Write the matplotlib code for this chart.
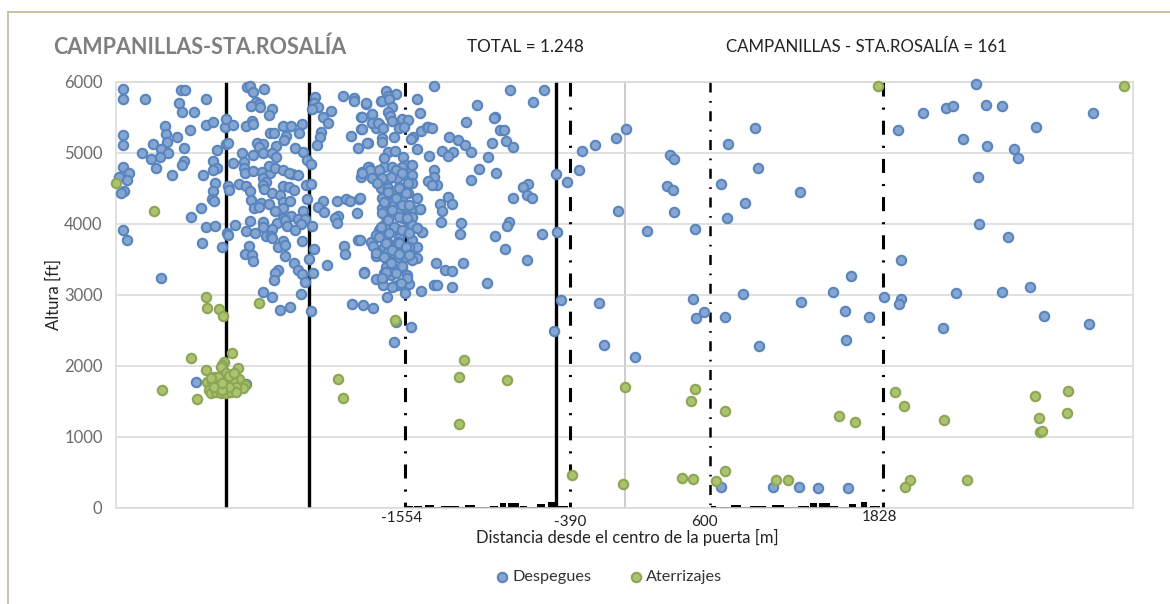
import numpy as np
import matplotlib
matplotlib.use('Agg')
import matplotlib.pyplot as plt
from matplotlib.lines import Line2D

plt.rcParams['font.family'] = ['Lato', 'DejaVu Sans']

# Despegues, (distancia m, altura ft), por zonas del grafico
dep_oeste = [
    (-3554,5896),(-3549,5755),(-3394,5765),(-3141,5887),(-3115,5887),(-2964,5765),(-3153,5704),(-3134,5582),(-3049,5582),
    (-3554,5252),(-3554,5107),(-3415,4999),(-3342,5121),(-3257,5375),(-3250,5271),(-3243,5158),(-3281,5055),(-3236,4999),
    (-3290,4938),(-3354,4914),(-3318,4782),(-3170,5229),(-3080,5318),(-3122,5069),(-3120,4886),(-3130,4834),(-3549,4806),
    (-3507,4721),(-3582,4656),(-3521,4618),(-3542,4468),(-3568,4430),(-3203,4693),(-2964,5393),(-2917,5436),(-2830,5370),
    (-2823,5483),(-2769,5398),(-2823,5121),(-2809,5144),(-2884,5046),(-2915,4886),(-2889,4792),(-2917,4764),(-2983,4684),
    (-2901,4576),(-2917,4458),(-2922,4350),(-2908,4327),(-3002,4223),(-3068,4096),(-2964,3955),(-2901,3974),(-2816,3875),
    (-2811,3847),(-2757,3979),(-2995,3725),(-2849,3673),(-3549,3918),(-3526,3772),(-3285,3241),(-2811,4529),(-2799,4477),
    (-3031,1770),(-2681,1737),
]
dep_centro = [
    (-2670,5934),(-2653,5943),(-2634,5863),(-2554,5896),(-2611,5713),(-2587,5690),(-2646,5661),(-2580,5652),(-2493,5619),
    (-2521,5530),(-2641,5450),(-2679,5384),(-2634,5403),(-2417,5384),(-2365,5375),(-2283,5408),(-2306,5276),(-2394,5243),
    (-2410,5182),(-2511,5276),(-2481,5276),(-2332,5069),(-2469,5102),(-2603,5144),(-2561,5121),(-2587,5088),(-2634,4970),
    (-2559,5003),(-2493,4999),(-2469,4947),(-2276,5008),(-2252,4900),(-2219,4839),(-2712,4994),(-2693,4872),(-2769,4853),
    (-2693,4782),(-2686,4721),(-2634,4750),(-2568,4736),(-2511,4721),(-2521,4820),(-2474,4782),(-2422,4759),(-2356,4703),
    (-2313,4693),(-2375,4721),(-2563,4642),(-2540,4594),(-2563,4548),(-2733,4562),(-2681,4538),(-2651,4463),(-2552,4486),
    (-2493,4430),(-2441,4406),(-2417,4533),(-2379,4524),(-2344,4477),(-2257,4548),(-2221,4562),(-2648,4331),(-2575,4289),
    (-2521,4275),(-2622,4228),(-2587,4242),(-2417,4303),(-2370,4322),(-2252,4355),(-2417,4219),(-2474,4176),(-2276,4181),
    (-2363,4110),(-2422,4078),(-2563,4021),(-2653,4035),(-2464,4012),(-2403,4054),(-2309,4063),(-2266,4068),(-2290,3998),
    (-2389,3965),(-2214,3974),(-2679,3894),(-2620,3866),(-2563,3960),(-2493,3922),(-2540,3833),(-2504,3828),(-2493,3796),
    (-2417,3763),(-2337,3908),(-2285,3758),(-2658,3692),(-2457,3673),(-2403,3697),(-2686,3579),(-2641,3560),(-2634,3471),
    (-2403,3551),(-2344,3443),(-2309,3349),(-2285,3288),(-2261,3180),(-2238,3504),(-2200,3640),(-2205,3302),(-2110,3420),
    (-2457,3349),(-2478,3302),(-2481,3208),(-2561,3034),(-2493,2964),(-2290,3011),(-2439,2785),(-2368,2832),(-2217,2775),
    (-1929,2870),(-1856,2860),(-1783,2813),(-1686,2973),(-1630,2329),(-1620,2620),
]
dep_este_linea = [
    (-2191,5788),(-2198,5699),(-2174,5652),(-2214,5614),(-2077,5591),(-2139,5502),(-2099,5426),(-2151,5295),(-2158,5220),
    (-2179,5112),(-1993,5802),(-1917,5774),(-1917,5727),(-1832,5690),(-1867,5502),(-1867,5337),(-1936,5234),(-1891,5074),
    (-1820,5135),(-1790,5539),(-1724,5732),(-1780,5426),(-1738,5408),(-1761,5356),(-1809,4806),(-1860,4731),(-1867,4656),
    (-1797,4750),(-2040,4327),(-1974,4345),(-1945,4322),(-1879,4350),(-2134,4327),(-2174,4242),(-2127,4171),(-2030,4115),
    (-2054,4078),(-2040,4007),(-1896,4148),(-1886,3772),(-1985,3687),(-1978,3575),(-1844,3316),(-1797,3749),(-1785,3687),
]
dep_denso = [
    (-1691,5878),(-1616,5831),(-1672,5807),(-1720,5732),(-1668,5755),(-1833,5699),(-1467,5755),(-1644,5643),(-1679,5572),
    (-1790,5544),(-1451,5558),(-1661,5520),(-1644,5455),(-1573,5473),(-1531,5464),(-1786,5426),(-1743,5417),(-1863,5502),
    (-1863,5337),(-1710,5356),(-1597,5346),(-1562,5370),(-1720,5205),(-1715,5158),(-1632,5229),(-1821,5135),(-1444,5314),
    (-1498,5220),(-1514,5196),(-1396,5370),(-1679,5018),(-1625,5032),(-1703,4933),(-1569,4947),(-1467,5055),(-1550,4830),
    (-1573,4806),(-1503,4830),(-1703,4797),(-1814,4806),(-1802,4759),(-1738,4759),(-1644,4797),(-1861,4712),(-1644,4665),
    (-1562,4688),(-1503,4688),(-1786,4651),(-1727,4618),(-1679,4627),(-1609,4642),(-1503,4571),(-1531,4571),(-1597,4524),
    (-1727,4500),(-1679,4510),(-1644,4454),(-1531,4430),(-1467,4369),(-1602,4383),(-1691,4406),(-1644,4313),(-1573,4360),
    (-1720,4360),(-1875,4360),(-1691,4265),(-1632,4265),(-1569,4219),(-1503,4204),(-1715,4228),(-1651,4148),(-1602,4209),
    (-1550,4242),(-1448,4209),(-1691,4100),(-1569,4077),(-1503,4100),(-1703,3983),(-1661,3960),(-1609,3927),(-1545,3927),
    (-1467,3945),(-1503,3983),(-1738,3913),(-1432,3889),(-1762,3842),(-1691,3842),(-1597,3804),(-1503,3772),(-1875,3772),
    (-1672,3725),(-1602,3748),(-1703,3678),(-1514,3631),(-1467,3678),(-1526,3678),(-1672,3607),(-1609,3607),(-1738,3560),
    (-1762,3551),(-1602,3537),(-1550,3537),(-1467,3513),(-1656,3466),(-1503,3490),(-1691,3396),(-1573,3372),(-1632,3349),
    (-1845,3311),(-1703,3301),(-1762,3222),(-1715,3222),(-1656,3278),(-1538,3278),(-1710,3137),(-1632,3123),(-1602,3137),
    (-1526,3151),(-1554,3029),(-1439,3057),(-1514,2550),
]
dep_denso_2 = [
    (-1620,4759),(-1573,4712),(-1656,4665),(-1715,4641),(-1750,4571),(-1597,4500),(-1679,4454),(-1550,4430),(-1620,4360),
    (-1703,4312),(-1573,4265),(-1644,4195),(-1526,4265),(-1715,4148),(-1597,4101),(-1679,4054),(-1538,4077),(-1727,3960),
    (-1632,3960),(-1573,3913),(-1668,3866),(-1526,3866),(-1738,3819),(-1597,3730),(-1691,3725),(-1644,3631),(-1550,3678),
    (-1762,3590),(-1703,3537),(-1597,3570),(-1526,3560),(-1656,3443),(-1573,3400),(-1691,3326),(-1620,3302),(-1538,3240),
    (-1715,3231),(-1644,3114),(-1585,3161),
]
dep_medio = [
    (-1352,5948),(-809,5887),(-571,5882),(-646,5718),(-1043,5680),(-1127,5440),(-918,5511),(-922,5492),(-885,5328),(-854,5328),
    (-1394,5370),(-1361,5351),(-1243,5220),(-1182,5182),(-1132,5112),(-1090,5013),(-943,5135),(-840,5173),(-788,5083),
    (-304,5027),(-212,5112),(-325,4759),(-486,4707),(-408,4590),(-1293,5027),(-1219,5018),(-1250,4952),(-1385,4952),(-969,4938),
    (-1028,4773),(-908,4721),(-1090,4613),(-1352,4759),(-1349,4656),(-1389,4609),(-1326,4548),(-1366,4548),(-686,4566),
    (-717,4519),(-693,4406),(-658,4369),(-788,4369),(-1248,4374),(-1224,4284),(-1309,4275),(-1295,4186),(-1297,4026),
    (-1158,4007),(-1163,3861),(-818,4026),(-835,3974),(-920,3824),(-587,3861),(-476,3885),(-847,3640),(-689,3485),(-1333,3443),
    (-1146,3448),(-1271,3349),(-1222,3340),(-974,3170),(-1349,3137),(-1326,3133),(-1224,3114),(-1437,3880),(-1467,3937),
    (-1451,4214),(-452,2921),(-182,2884),(-500,2484),(-146,2291),(71,2122),
]
dep_este = [
    (486,2935),(835,3015),(564,2752),(506,2667),(706,2682),(951,2282),(1249,2898),(1474,3034),(1557,2776),(1729,2682),
    (1565,2362),(1838,2973),(1957,2945),(1944,2865),(683,289),(1052,289),(1236,289),(1365,280),(1578,275),
    (-61,5210),(10,5337),(321,4970),(349,4914),(300,4533),(342,4477),(349,4166),(498,3927),(-47,4180),(158,3900),
    (682,4561),(725,4082),(852,4293),(732,5125),(923,5350),(944,4787),(1241,4448),(1602,3264),
    (2484,5972),(2114,5558),(2272,5628),(2326,5657),(2560,5680),(2668,5666),(3312,5558),(2911,5365),(1937,5318),(2392,5196),
    (2564,5097),(2753,5050),(2784,4928),(2503,4660),(2510,3993),(2711,3810),(1956,3495),(2345,3025),(2668,3034),(2869,3109),
    (2253,2530),(2968,2700),(3286,2585),
]

# Aterrizajes
ate_sueltos = [
    (-3599,4576),(-3330,4176),(-2964,2973),(-2953,2813),(-2870,2794),(-2846,2705),(-3068,2108),(-2783,2174),(-3276,1662),
    (-3030,1530),(-2028,1817),(-1997,1540),(-2587,2888),(-1627,2644),(-1139,2085),(-1175,1840),(-834,1793),(-1170,1173),
    (0,1695),(498,1671),(471,1502),(706,1356),(-371,459),(-12,327),(402,421),(481,397),(648,369),(713,520),(1072,388),
    (1158,393),(1914,1624),(1979,1431),(1517,1286),(1626,1210),(2017,383),(1985,285),(1791,5948),(3534,5948),(2904,1579),
    (3140,1636),(2939,1065),(2953,1079),(2933,1262),(3131,1332),(2260,1234),(2423,388),
]
ate_racimo = [
    (-2835,2056),(-2847,2010),(-2859,1986),(-2734,1972),(-2965,1939),(-2906,1845),(-2823,1892),(-2953,1775),(-2729,1807),
    (-2689,1727),(-2701,1680),(-2882,1727),(-2918,1751),(-2812,1798),(-2776,1775),(-2753,1704),(-2941,1657),(-2930,1610),
    (-2894,1634),(-2859,1610),(-2823,1610),(-2788,1634),(-2753,1634),(-2871,1798),(-2906,1704),(-2835,1680),(-2800,1704),
    (-2847,1657),(-2882,1845),(-2800,1854),(-2764,1892),(-2930,1822),(-2847,1760),
]

lineas_solidas = [-2821, -2234, -485]
lineas_puerta = [-1554, -390, 1828]
linea_puerta_fina = 600

# perfil junto al eje: inicio, fin y altura de cada tramo
perfil_ini = [-1551,-1551,-1488,-1412,-1299,-1134,-957,-882,-824,-743,-624,-545,-477,
              610,610,749,888,1039,1229,1312,1375,1456,1588,1671,1734]
perfil_fin = [-401,-1501,-1438,-1349,-1172,-1059,-894,-839,-748,-692,-566,-495,-401,
              1810,648,824,1001,1128,1305,1360,1451,1507,1638,1714,1810]
perfil_alt = [12,20,16,34,24,34,28,62,62,28,52,78,22,
              12,20,34,24,34,28,62,62,28,52,78,22]

W, H = 1170, 604
fig = plt.figure(figsize=(W/100, H/100), dpi=100, facecolor='white')
ax = fig.add_axes([116.5/W, 1-507.5/H, (1133-116.5)/W, (507.5-82)/H])

GRIS = '#D9D9D9'
ax.set_xlim(-3597, 3597)
ax.set_ylim(0, 6000)
ax.set_yticks(range(0, 6001, 1000))
ax.set_xticks([])
ax.grid(axis='y', color=GRIS, lw=1.1, zorder=0)
for s in ax.spines.values():
    s.set_color(GRIS)
    s.set_linewidth(1.1)
ax.tick_params(axis='y', length=0, pad=10, labelsize=12, labelcolor='#6b6b6b')

ax.axvline(0, color='#BFBFBF', lw=1.1, zorder=1)
ax.bar(perfil_ini, perfil_alt, width=np.array(perfil_fin)-np.array(perfil_ini),
       align='edge', color='black', zorder=2)
for x in lineas_solidas:
    ax.axvline(x, color='black', lw=2.4, zorder=2)
for x in lineas_puerta:
    ax.plot([x, x], [6000, 0], color='black', lw=2.2, dash_capstyle='butt',
            linestyle=(0, (4.6, 3.6, 0.7, 3.6)), zorder=2)
ax.plot([linea_puerta_fina]*2, [6000, 0], color='black', lw=1.8, dash_capstyle='butt',
        linestyle=(0, (4.0, 3.4, 0.7, 3.4)), zorder=2)

despegues = np.array(dep_oeste + dep_centro + dep_este_linea + dep_denso + dep_denso_2 + dep_medio + dep_este)
aterrizajes = np.array(ate_sueltos + ate_racimo)
kw = dict(s=46, linewidths=1.5, clip_on=False)
ax.scatter(despegues[:, 0], despegues[:, 1], facecolor='#86A5D1', edgecolor='#5885BE',
           zorder=3, label='Despegues', **kw)
ax.scatter(aterrizajes[:, 0], aterrizajes[:, 1], facecolor='#AAC36F', edgecolor='#8EA553',
           zorder=4, label='Aterrizajes', **kw)

def t(px, py, s, **k):
    fig.text(px/W, 1-py/H, s, ha=k.pop('ha', 'center'), va='center', **k)

t(53, 47, 'CAMPANILLAS-STA.ROSALÍA', ha='left', fontsize=15.5, fontweight='bold', color='#7F7F7F')
t(525, 47, 'TOTAL = 1.248', fontsize=12.3, color='#222222')
t(866, 47, 'CAMPANILLAS - STA.ROSALÍA = 161', fontsize=12.2, color='#222222')
t(54, 295, 'Altura [ft]', rotation=90, fontsize=12, color='#222222')
t(627, 537, 'Distancia desde el centro de la puerta [m]', fontsize=12, color='#222222')
t(402, 518, '-1554', fontsize=11, color='#222222')
t(570, 522, '-390', fontsize=11, color='#222222')
t(704, 522, '600', fontsize=11, color='#222222')
t(880, 517, '1828', fontsize=11, color='#222222')

fig.legend(loc='center', bbox_to_anchor=(604/W, 1-577/H), ncol=2, frameon=False,
           fontsize=11.7, labelcolor='#333333', handletextpad=-0.35, columnspacing=1.7)

# marco exterior
borde = '#C6BE9C'
fig.add_artist(Line2D([8/W, 8/W], [0, 1-12/H], color=borde, lw=1.3))
fig.add_artist(Line2D([8/W, 1], [1-12/H, 1-12/H], color=borde, lw=1.3))

fig.savefig('out.png', dpi=100)
plt.close(fig)
